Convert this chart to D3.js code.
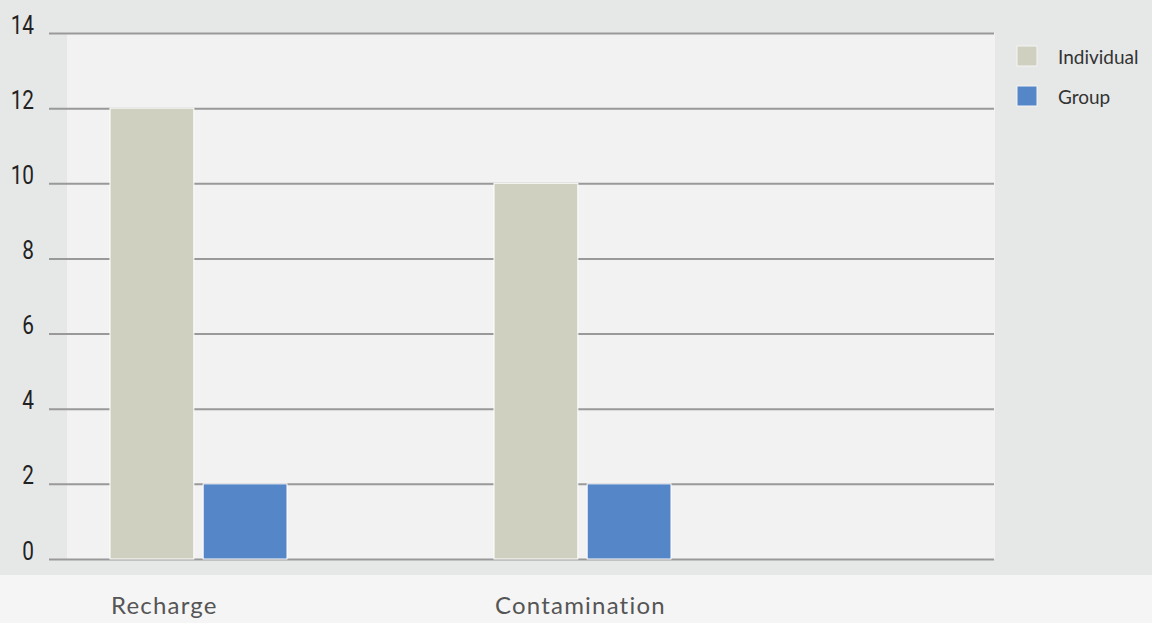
<!DOCTYPE html>
<html>
<head>
<meta charset="utf-8">
<script src="https://cdn.jsdelivr.net/npm/d3@7"></script>
<style>
  html, body { margin: 0; padding: 0; background: #f5f5f5; }
  svg { display: block; }
</style>
</head>
<body>
<svg id="chart" width="1152" height="623"></svg>
<script>
// Chart data
const categories = ["Recharge", "Contamination"];
const seriesNames = ["Individual", "Group"];
const individualValues = [12, 10];
const groupValues = [2, 2];
const yTicks = [0, 2, 4, 6, 8, 10, 12, 14];
const seriesColors = ["#cfd0c0", "#5586c8"];

const W = 1152, H = 623;
const svg = d3.select("#chart");

// Backgrounds
svg.append("rect").attr("x", 0).attr("y", 0).attr("width", W).attr("height", 575).attr("fill", "#e6e8e7");
svg.append("rect").attr("x", 0).attr("y", 575).attr("width", W).attr("height", H - 575).attr("fill", "#f5f5f5");

const plot = { left: 67, right: 995, top: 33, bottom: 559 };
svg.append("rect")
  .attr("x", plot.left).attr("y", plot.top)
  .attr("width", plot.right - plot.left).attr("height", plot.bottom - plot.top)
  .attr("fill", "#f2f2f2");

// Scales
const y = d3.scaleLinear().domain([0, 14]).range([plot.bottom, plot.top]);
const x0 = d3.scaleBand().domain(categories).range([110, 878]).paddingInner(0).paddingOuter(0);
const x1 = d3.scaleBand().domain(seriesNames).range([0, 177]).paddingInner(0.1).paddingOuter(0);
const color = d3.scaleOrdinal().domain(seriesNames).range(seriesColors);

// Gridlines + y labels via axis
const axisX = plot.right - 1;
const yAxis = d3.axisLeft(y).tickValues(yTicks).tickSize(0).tickFormat(d3.format("d"));
const gy = svg.append("g").attr("transform", `translate(${axisX},0)`).call(yAxis);
gy.select(".domain").remove();
gy.selectAll(".tick line")
  .attr("x1", 0).attr("x2", 49 - axisX)
  .attr("stroke", "#999").attr("stroke-width", 2);
gy.selectAll(".tick text")
  .attr("x", 0)
  .attr("dy", 0)
  .attr("text-anchor", "end")
  .attr("transform", `translate(${34 - axisX},0) scale(0.8,1)`)
  .attr("fill", "#222")
  .style("font-family", "Roboto, sans-serif")
  .style("font-size", "26px");

// Bars
const rows = categories.map((c, i) => ({
  category: c,
  values: [
    { key: seriesNames[0], value: individualValues[i] },
    { key: seriesNames[1], value: groupValues[i] }
  ]
}));

const groups = svg.append("g").selectAll("g").data(rows).join("g")
  .attr("transform", d => `translate(${x0(d.category)},0)`);

groups.selectAll("rect").data(d => d.values).join("rect")
  .attr("x", d => x1(d.key))
  .attr("y", d => y(d.value))
  .attr("width", x1.bandwidth())
  .attr("height", d => y(0) - y(d.value))
  .attr("fill", d => color(d.key))
  .attr("stroke", "#fff")
  .attr("stroke-width", 1);

// Category labels
svg.append("g").selectAll("text").data(categories).join("text")
  .attr("x", d => x0(d) + 1)
  .attr("y", 614)
  .attr("fill", "#555")
  .style("font-family", "Lato, sans-serif")
  .style("font-size", "24px")
  .style("letter-spacing", "1.2px")
  .text(d => d);

// Legend
const legend = svg.append("g").selectAll("g").data(seriesNames).join("g")
  .attr("transform", (d, i) => `translate(1017,${46 + i * 40})`);
legend.append("rect")
  .attr("width", 20).attr("height", 20)
  .attr("fill", d => color(d))
  .attr("stroke", "#f4f4f4").attr("stroke-width", 1);
legend.append("text")
  .attr("x", 41).attr("y", 17.5)
  .attr("fill", "#333")
  .style("font-family", "Lato, sans-serif")
  .style("font-size", "19px")
  .text(d => d);
</script>
</body>
</html>
